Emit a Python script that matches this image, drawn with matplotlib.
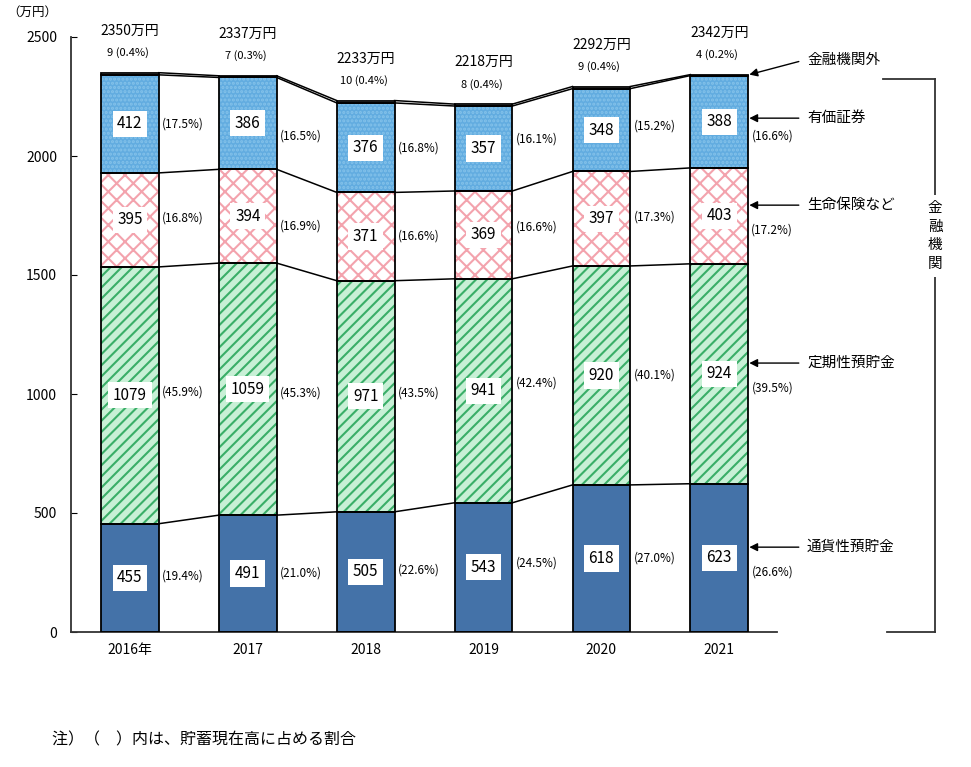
import matplotlib
matplotlib.use("Agg")
import matplotlib.pyplot as plt
import numpy as np

plt.rcParams['font.family'] = ['Noto Sans CJK JP', 'DejaVu Sans']
plt.rcParams['hatch.linewidth'] = 1.5

# ============================= Data ============================= #
years = ["2016年", "2017", "2018", "2019", "2020", "2021"]
tsuka = [455, 491, 505, 543, 618, 623]           # 通貨性預貯金
teiki = [1079, 1059, 971, 941, 920, 924]         # 定期性預貯金
seimei = [395, 394, 371, 369, 397, 403]          # 生命保険など
yuka = [412, 386, 376, 357, 348, 388]            # 有価証券
gai = [9, 7, 10, 8, 9, 4]                        # 金融機関外
totals = [2350, 2337, 2233, 2218, 2292, 2342]

pct_tsuka = ["19.4", "21.0", "22.6", "24.5", "27.0", "26.6"]
pct_teiki = ["45.9", "45.3", "43.5", "42.4", "40.1", "39.5"]
pct_seimei = ["16.8", "16.9", "16.6", "16.6", "17.3", "17.2"]
pct_yuka = ["17.5", "16.5", "16.8", "16.1", "15.2", "16.6"]
pct_gai = ["0.4", "0.3", "0.4", "0.4", "0.4", "0.2"]

series_names = ["通貨性預貯金", "定期性預貯金", "生命保険など", "有価証券", "金融機関外"]

# ============================= Figure ============================= #
W, H = 971, 767
fig = plt.figure(figsize=(W / 100, H / 100), dpi=100)
ax = fig.add_axes([71 / W, 1 - 632 / H, (777 - 71) / W, (632 - 37) / H])

x = np.arange(len(years))
bw = 0.49

layers = [tsuka, teiki, seimei, yuka, gai]
faces = ["#4472a8", "#c8f0d6", "#ffffff", "#62ace0", "#ffffff"]
hcols = ["#4472a8", "#3aae68", "#f3a3ad", "#84c2ea", "#ffffff"]
hatches = [None, "///", "xx", "....", None]

bottom = np.zeros(len(years))
bounds = [bottom.copy()]
mids = []
for vals, fc, hc, hp in zip(layers, faces, hcols, hatches):
    vals = np.array(vals, dtype=float)
    ax.bar(x, vals, bw, bottom=bottom, color=fc, edgecolor=hc, hatch=hp, linewidth=0, zorder=2)
    ax.bar(x, vals, bw, bottom=bottom, fill=False, edgecolor="black", linewidth=1.3, zorder=3)
    mids.append(bottom + vals / 2)
    bottom = bottom + vals
    bounds.append(bottom.copy())

# connecting lines between bars
for b in bounds[1:]:
    for i in range(len(x) - 1):
        ax.plot([x[i] + bw / 2, x[i + 1] - bw / 2], [b[i], b[i + 1]], color="black", lw=1.1, zorder=3)

# value boxes and percentages
last = len(x) - 1
for k, (vals, pcts) in enumerate(zip(layers[:4], [pct_tsuka, pct_teiki, pct_seimei, pct_yuka])):
    m = mids[k]
    for i in range(len(x)):
        ax.text(x[i], m[i], str(vals[i]), ha="center", va="center", fontsize=11, zorder=5,
                bbox=dict(boxstyle="square,pad=0.3", fc="white", ec="none"))
        py = (m[i] + m[i + 1]) / 2 if i < last else m[i] - 60
        ax.text(x[i] + 0.45, py, f"({pcts[i]}%)", ha="center", va="center", fontsize=8.5, zorder=5)

# totals above bars
for i in range(len(x)):
    ax.annotate(f"{totals[i]}万円", (x[i], totals[i]), xytext=(0, 42), textcoords="offset pixels",
                ha="center", va="center", fontsize=10)
    ax.annotate(f"{gai[i]} ({pct_gai[i]}%)", (x[i], totals[i]), xytext=(-2, 20), textcoords="offset pixels",
                ha="center", va="center", fontsize=8)

# right-side labels with arrows
xe = x[last] + bw / 2 + 0.01
arrow = dict(arrowstyle="-|>", color="black", lw=1.0, mutation_scale=12, shrinkA=0, shrinkB=0)
ax.annotate("", (xe, totals[last]), xytext=(xe + 0.42, totals[last] + 55), arrowprops=arrow, annotation_clip=False)
ax.text(xe + 0.49, totals[last] + 60, series_names[4], ha="left", va="center", fontsize=10.5)
for k in range(4):
    yk = mids[k][last] + (15 if k == 3 else 45)
    ax.annotate("", (xe, yk), xytext=(xe + 0.42, yk), arrowprops=arrow, annotation_clip=False)
    ax.text(xe + 0.49, yk, series_names[k], ha="left", va="center", fontsize=10.5)

# axes styling
ax.set_xlim(-0.5, 5.49)
ax.set_ylim(0, 2500)
ax.set_yticks(np.arange(0, 2501, 500))
ax.set_xticks(x)
ax.set_xticklabels(years, fontsize=10)
ax.tick_params(axis="y", direction="in", length=4, labelsize=10, pad=10)
ax.tick_params(axis="x", length=0, pad=8)
for s in ["top", "right"]:
    ax.spines[s].set_visible(False)
for s in ["left", "bottom"]:
    ax.spines[s].set_color("#333333")
    ax.spines[s].set_linewidth(1.3)

fig.text(32 / W, 1 - 12 / H, "（万円）", ha="center", va="center", fontsize=9)

# bracket for 金融機関
bx = 935 / W
ytop = 1 - 79 / H
ybot = 1 - 632 / H
fig.add_artist(plt.Line2D([883 / W, bx], [ytop, ytop], color="#333333", lw=1.3))
fig.add_artist(plt.Line2D([bx, bx], [ytop, ybot], color="#333333", lw=1.3))
fig.add_artist(plt.Line2D([887 / W, bx], [ybot, ybot], color="#333333", lw=1.3))
fig.text(bx, 1 - 236 / H, "金\n融\n機\n関", ha="center", va="center", fontsize=10.5, linespacing=1.45,
         bbox=dict(boxstyle="square,pad=0.4", fc="white", ec="none"))

fig.text(52 / W, 1 - 740 / H, "注）（　）内は、貯蓄現在高に占める割合", ha="left", va="center", fontsize=11.5)

fig.savefig("out.png", dpi=100)
